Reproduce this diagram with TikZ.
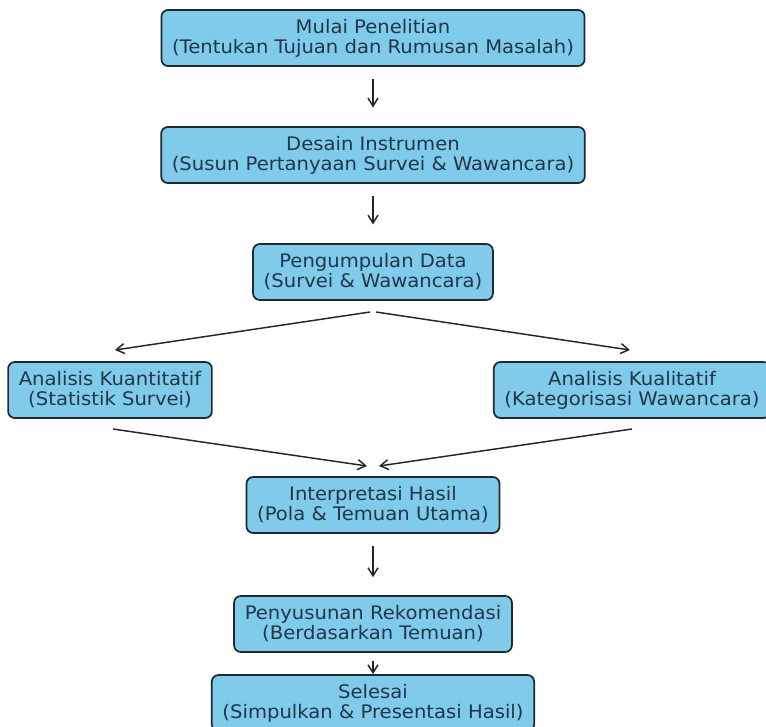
\documentclass[tikz,border=0pt]{standalone}
\usepackage{fontspec}
\setmainfont{DejaVu Sans}[FakeStretch=1.05]
\usetikzlibrary{arrows.meta}
\definecolor{boxblue}{RGB}{128,203,234}
\definecolor{boxline}{RGB}{28,42,52}
\definecolor{boxtext}{RGB}{30,55,75}
\begin{document}
\begin{tikzpicture}[x=0.75pt, y=-0.75pt,
    phase/.style={rectangle, rounded corners=5pt, draw=boxline, line width=1.3pt, fill=boxblue, text=boxtext, align=center, font=\fontsize{14}{15}\selectfont, minimum height=42pt, inner xsep=8pt, inner ysep=2pt},
    arrow/.style={-{Straight Barb[length=6pt,width=7.5pt]}, line width=1.1pt, color=black!85}
]
    \useasboundingbox (0,0) rectangle (766,726);

    % Alur utama
    \node[phase] (mulai) at (373,38) {Mulai Penelitian\\(Tentukan Tujuan dan Rumusan Masalah)};
    \node[phase] (desain) at (373,155) {Desain Instrumen\\(Susun Pertanyaan Survei \& Wawancara)};
    \node[phase] (data) at (373,272) {Pengumpulan Data\\(Survei \& Wawancara)};

    % Cabang analisis
    \node[phase] (kuan) at (110,390) {Analisis Kuantitatif\\(Statistik Survei)};
    \node[phase] (kual) at (632,390) {Analisis Kualitatif\\(Kategorisasi Wawancara)};

    % Penutup
    \node[phase] (interp) at (373,505) {Interpretasi Hasil\\(Pola \& Temuan Utama)};
    \node[phase] (rekom) at (373,624) {Penyusunan Rekomendasi\\(Berdasarkan Temuan)};
    \node[phase] (selesai) at (373,703) {Selesai\\(Simpulkan \& Presentasi Hasil)};

    % Ujung panah diagonal
    \coordinate (data out l) at (370,312);
    \coordinate (data out r) at (376,312);
    \coordinate (kuan in) at (115,350);
    \coordinate (kual in) at (630,350);
    \coordinate (kuan out) at (113,429);
    \coordinate (kual out) at (632,429);
    \coordinate (interp in l) at (367,466);
    \coordinate (interp in r) at (379,466);

    \draw[arrow, shorten <=9pt, shorten >=14pt] (mulai) -- (desain);
    \draw[arrow, shorten <=9pt, shorten >=14pt] (desain) -- (data);
    \draw[arrow] (data out l) -- (kuan in);
    \draw[arrow] (data out r) -- (kual in);
    \draw[arrow] (kuan out) -- (interp in l);
    \draw[arrow] (kual out) -- (interp in r);
    \draw[arrow, shorten <=9pt, shorten >=13.5pt] (interp) -- (rekom);
    \draw[arrow, shorten <=6pt] (rekom) -- (selesai);
\end{tikzpicture}
\end{document}
